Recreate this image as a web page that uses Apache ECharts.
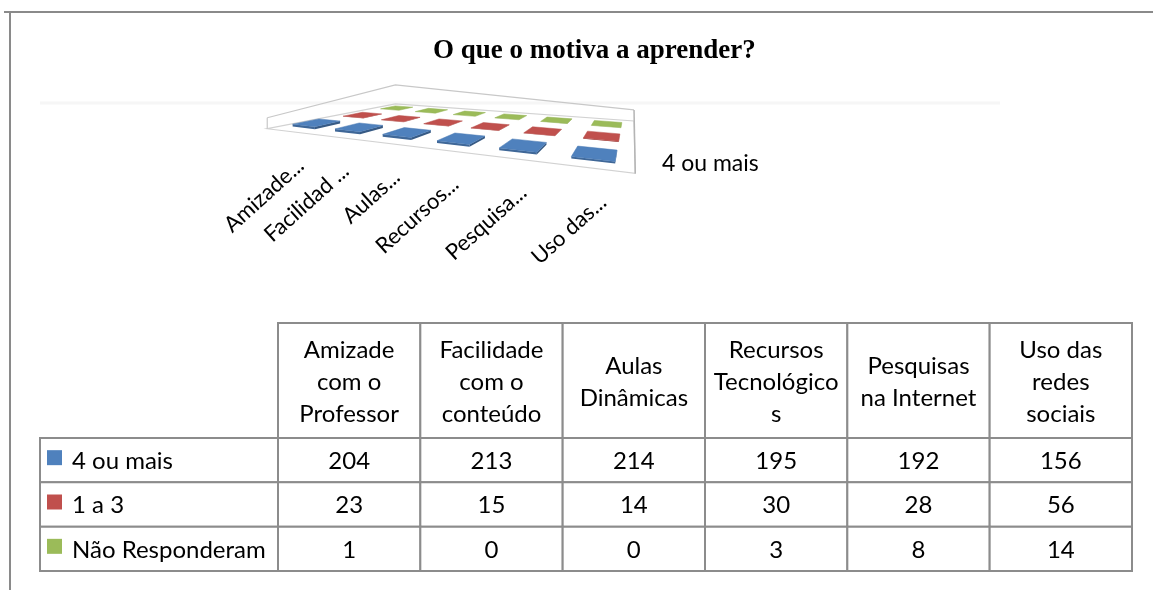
<!DOCTYPE html>
<html><head><meta charset="utf-8">
<script src="https://cdn.jsdelivr.net/npm/echarts@6/dist/echarts.min.js"></script>
<style>html,body{margin:0;padding:0;background:#fff}#c{width:1153px;height:590px}</style>
</head><body><div id="c"></div>
<script>
// ---------- data ----------
const categories = ['Amizade com o Professor','Facilidade com o conteúdo','Aulas Dinâmicas','Recursos Tecnológicos','Pesquisas na Internet','Uso das redes sociais'];
const headerLabels = ['Amizade\ncom o\nProfessor','Facilidade\ncom o\nconteúdo','Aulas\nDinâmicas','Recursos\nTecnológico\ns','Pesquisas\nna Internet','Uso das\nredes\nsociais'];
const axisLabels = ['Amizade...','Facilidad ...','Aulas...','Recursos...','Pesquisa...','Uso das...'];
const seriesNames = ['4 ou mais','1 a 3','Não Responderam'];
const values4ouMais = [204,213,214,195,192,156];
const values1a3 = [23,15,14,30,28,56];
const valuesNaoResponderam = [1,0,0,3,8,14];
const seriesValues = [values4ouMais, values1a3, valuesNaoResponderam];
const colors = ['#4F81BD','#C0504D','#9BBB59'];

// ---------- perspective camera (floor plane homography) ----------
const H = {a:113.6,b:214.8,c:317,d:-12.8,e:19.7,f:125,g:-0.2763,h:0.3396};
function proj(u, v){
  const s = (u - 1/12) / (10/12), t = (v - 1/6) / (4/6);
  const w = H.g*s + H.h*t + 1;
  return [(H.a*s + H.b*t + H.c)/w, (H.d*s + H.e*t + H.f)/w];
}
function shade(hex, k){
  const n = parseInt(hex.slice(1),16);
  const r = Math.round(((n>>16)&255)*k), g = Math.round(((n>>8)&255)*k), b = Math.round((n&255)*k);
  return 'rgb('+r+','+g+','+b+')';
}
const FONT = 'Lato, "Open Sans", sans-serif';

function render3D(j){
  return function(params, api){
    const cs = params.coordSys;
    const i = api.value(0), val = api.value(1);
    const base = api.coord([i, 0]), top = api.coord([i, val]);
    const u = (base[0] - cs.x) / cs.width;
    const bw = api.size([1, 0])[0] / cs.width;
    const hpx = base[1] - top[1];
    const v = (j + 0.5) / 3, dv = 1/3;
    const u0 = u - bw*0.27, u1 = u + bw*0.27, v0 = v - dv*0.24, v1 = v + dv*0.24;
    const P = (uu, vv, hh) => { const p = proj(uu, vv); return [p[0], p[1] - hh]; };
    const col = colors[j];
    return {type:'group', children:[
      {type:'polygon', shape:{points:[P(u0,v0,0),P(u1,v0,0),P(u1,v0,hpx),P(u0,v0,hpx)]}, style:{fill:shade(col,0.8)}},
      {type:'polygon', shape:{points:[P(u1,v0,0),P(u1,v1,0),P(u1,v1,hpx),P(u1,v0,hpx)]}, style:{fill:shade(col,0.7)}},
      {type:'polygon', shape:{points:[P(u0,v0,hpx),P(u1,v0,hpx),P(u1,v1,hpx),P(u0,v1,hpx)]}, style:{fill:col, stroke:shade(col,0.95), lineWidth:0.5}}
    ]};
  };
}

const chart = echarts.init(document.getElementById('c'), null, {renderer:'canvas'});
const WALL = 11;
const series = [];
// floor and walls
series.push({
  type:'custom', xAxisIndex:0, yAxisIndex:0, silent:true, z:1,
  data:[[0]],
  renderItem:function(params, api){
    const P = (uu, vv, hh) => { const p = proj(uu, vv); return [p[0], p[1] - (hh||0)]; };
    const ls = {stroke:'#c8c8c8', lineWidth:1.2, fill:null};
    return {type:'group', children:[
      {type:'polygon', shape:{points:[P(0,0),P(1,0),P(1,1),P(0,1)]}, style:{stroke:'#d2d2d2', lineWidth:1.2, fill:'#ffffff'}},
      {type:'polyline', shape:{points:[P(0,0,WALL),P(0,1,WALL+8),P(1,1,WALL)]}, style:ls},
      {type:'polyline', shape:{points:[P(0,0),P(0,0,WALL)]}, style:ls},
      {type:'polyline', shape:{points:[P(1,0),P(1,1,WALL)]}, style:{stroke:'#b4b4b4', lineWidth:1.5}}
    ]};
  }
});
// bars: back to front
[2,1,0].forEach(function(j){
  series.push({
    type:'custom', name:seriesNames[j], xAxisIndex:0, yAxisIndex:0, z:2,
    data: seriesValues[j].map((v,i)=>[i,v]),
    renderItem: render3D(j)
  });
});
// category labels
series.push({
  type:'custom', xAxisIndex:0, yAxisIndex:0, silent:true, z:3,
  data: axisLabels.map((l,i)=>[i]),
  renderItem:function(params, api){
    const cs = params.coordSys;
    const i = api.value(0);
    const u = (api.coord([i,0])[0] - cs.x) / cs.width;
    const p = proj(u, 0);
    return {type:'text', x:p[0]+13, y:p[1]+31, rotation:42*Math.PI/180,
      style:{text:axisLabels[i], align:'right', verticalAlign:'middle', font:'22px '+FONT, fill:'#000'}};
  }
});
// depth-axis label (first series)
series.push({
  type:'custom', xAxisIndex:0, yAxisIndex:0, silent:true, z:3,
  data:[[0]],
  renderItem:function(params, api){
    const p = proj(1, 0.5/3);
    return {type:'text', x:p[0]+27, y:p[1]+4,
      style:{text:seriesNames[0], align:'left', verticalAlign:'middle', font:'23px '+FONT, fill:'#000'}};
  }
});

// ---------- data table ----------
const HEADER_H = 115, LABEL_LEFT = 40;
const cellData = [];
seriesValues.forEach((arr,r)=>arr.forEach((v,c)=>cellData.push([c,r,v])));
const border = {stroke:'#8c8c8c', lineWidth:2, fill:'#fff'};
series.push({
  type:'custom', xAxisIndex:1, yAxisIndex:1, silent:true, z:5,
  data: cellData,
  renderItem:function(params, api){
    const c = api.value(0), r = api.value(1), v = api.value(2);
    const p = api.coord([c, r]); const sz = api.size([1,1]);
    return {type:'group', children:[
      {type:'rect', shape:{x:p[0]-sz[0]/2, y:p[1]-sz[1]/2, width:sz[0], height:sz[1]}, style:border},
      {type:'text', x:p[0], y:p[1]+1, style:{text:String(v), align:'center', verticalAlign:'middle', font:'24px '+FONT, fill:'#000'}}
    ]};
  }
});
series.push({
  type:'custom', xAxisIndex:1, yAxisIndex:1, silent:true, z:5,
  data: headerLabels.map((h,c)=>[c]),
  renderItem:function(params, api){
    const cs = params.coordSys; const c = api.value(0);
    const p = api.coord([c, 0]); const w = api.size([1,1])[0];
    return {type:'group', children:[
      {type:'rect', shape:{x:p[0]-w/2, y:cs.y-HEADER_H, width:w, height:HEADER_H}, style:border},
      {type:'text', x:p[0], y:cs.y-HEADER_H/2+2, style:{text:headerLabels[c], align:'center', verticalAlign:'middle', lineHeight:32, font:'24px '+FONT, fill:'#000'}}
    ]};
  }
});
series.push({
  type:'custom', xAxisIndex:1, yAxisIndex:1, silent:true, z:5,
  data: seriesNames.map((n,r)=>[r]),
  renderItem:function(params, api){
    const cs = params.coordSys; const r = api.value(0);
    const p = api.coord([0, r]); const h = api.size([1,1])[1];
    return {type:'group', children:[
      {type:'rect', shape:{x:LABEL_LEFT, y:p[1]-h/2, width:cs.x-LABEL_LEFT, height:h}, style:border},
      {type:'rect', shape:{x:LABEL_LEFT+7, y:p[1]-10, width:15, height:15}, style:{fill:colors[r]}},
      {type:'text', x:LABEL_LEFT+32, y:p[1]+1, style:{text:seriesNames[r], align:'left', verticalAlign:'middle', font:'24px '+FONT, fill:'#000'}}
    ]};
  }
});

chart.setOption({
  animation:false,
  backgroundColor:'#fff',
  title:{text:'O que o motiva a aprender?', left:428, top:33,
    textStyle:{fontFamily:'"Liberation Serif", "Times New Roman", serif', fontWeight:'bold', fontSize:27, color:'#000'}},
  grid:[
    {left:100, top:200, width:600, height:50, show:false},
    {left:278, top:438, width:854, height:133, show:false}
  ],
  xAxis:[
    {gridIndex:0, type:'category', data:categories, show:false},
    {gridIndex:1, type:'category', data:categories, show:false}
  ],
  yAxis:[
    {gridIndex:0, type:'value', min:0, max:4280, show:false},
    {gridIndex:1, type:'category', data:seriesNames, inverse:true, show:false}
  ],
  graphic:[
    {type:'line', shape:{x1:4, y1:12, x2:1153, y2:12}, style:{stroke:'#8a8a8a', lineWidth:2}, z:10},
    {type:'line', shape:{x1:10, y1:12, x2:10, y2:590}, style:{stroke:'#8a8a8a', lineWidth:2}, z:10},
    {type:'line', shape:{x1:40, y1:103, x2:1000, y2:103}, style:{stroke:'#f6f6f6', lineWidth:3}, z:0}
  ],
  series: series
});
</script></body></html>
